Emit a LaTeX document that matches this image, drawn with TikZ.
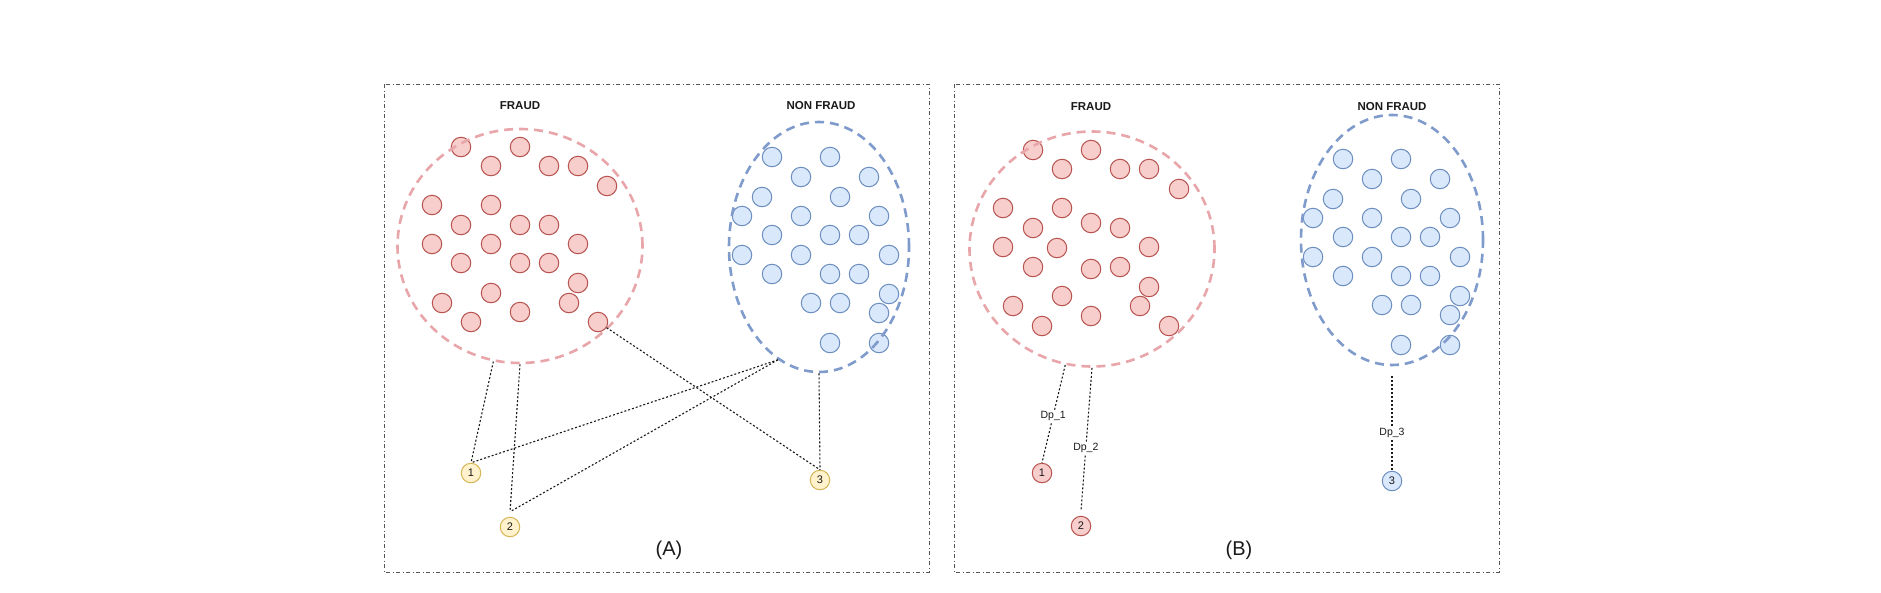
\documentclass[tikz,border=0pt]{standalone}
\usepackage{fontspec}
\setmainfont{Liberation Sans}
\usepackage{xcolor}
\usepackage{tikz}
\usetikzlibrary{shapes.geometric}
\definecolor{ink}{HTML}{1A1A1A}
\definecolor{framec}{HTML}{555555}
\definecolor{redfill}{HTML}{F8CECC}
\definecolor{redline}{HTML}{B85450}
\definecolor{redring}{HTML}{E8A6AA}
\definecolor{bluefill}{HTML}{DAE8FC}
\definecolor{blueline}{HTML}{6C8EBF}
\definecolor{bluering}{HTML}{7F9BCB}
\definecolor{yelfill}{HTML}{FFF2CC}
\definecolor{yelline}{HTML}{D6B656}
\tikzset{
  panel/.style={draw=framec, line width=1pt, dash pattern=on 4pt off 2.5pt on 1pt off 2.5pt},
  ring/.style={ellipse, draw, line width=2.6pt, dash pattern=on 9pt off 6pt, inner sep=0pt},
  fraudring/.style={ring, draw=redring},
  nonring/.style={ring, draw=bluering},
  dot/.style={circle, line width=1pt, minimum size=19.5pt, inner sep=0pt, text=ink, font=\fontsize{11}{11}\selectfont},
  fraudpt/.style={dot, draw=redline, fill=redfill},
  nonpt/.style={dot, draw=blueline, fill=bluefill},
  newpt/.style={dot, draw=yelline, fill=yelfill},
  link/.style={draw=ink, line width=1.1pt, dash pattern=on 2pt off 2pt},
  head/.style={text=ink, font=\bfseries\fontsize{11.5}{12}\selectfont},
  tag/.style={text=ink, font=\fontsize{20}{22}\selectfont},
  edgelab/.style={text=ink, fill=white, inner sep=1pt, font=\fontsize{10.5}{11}\selectfont}
}
\def\nonpts{772/157, 830/157, 801/177, 869/177, 762/197, 840/197, 742/216, 801/216,
  879/216, 772/235, 830/235, 859/235, 742/255, 801/255, 889/255, 772/274, 830/274,
  859/274, 889/294, 811/303, 840/303, 879/313, 830/343, 879/343}

\begin{document}
\begin{tikzpicture}[x=1pt,y=-1pt]
  \useasboundingbox (0,0) rectangle (1881,592);
  \fill[white] (0,0) rectangle (1881,592);

  % (A)
  \draw[panel] (384,84) rectangle (929,572);
  \node[head] (headfa) at (520,106) {FRAUD};
  \node[head] (headna) at (821,106) {NON FRAUD};
  \foreach \x/\y [count=\i] in {461/147, 520/147, 491/166, 549/166, 578/166, 607/186,
      432/205, 491/205, 461/225, 520/225, 549/225, 432/244, 491/244, 578/244, 461/263,
      520/263, 549/263, 578/283, 491/293, 442/303, 569/303, 471/322, 520/312, 598/322}
    \node[fraudpt] (fa\i) at (\x,\y) {};
  \foreach \x/\y [count=\i] in \nonpts
    \node[nonpt] (na\i) at (\x,\y) {};
  \node[fraudring, minimum width=245pt, minimum height=234pt] (fraudA) at (520,246) {};
  \node[nonring, minimum width=180pt, minimum height=250pt] (nonA) at (819,247) {};
  \node[newpt] (a1) at (471,473) {1};
  \node[newpt] (a2) at (510,527) {2};
  \node[newpt] (a3) at (820,480) {3};
  \draw[link] (fraudA.-103) -- (a1.north);
  \draw[link] (fraudA.south) -- ([yshift=5pt]a2.north);
  \draw[link] (fa24) -- (a3.north);
  \draw[link] (nonA.-110) -- (a1.north);
  \draw[link] (nonA.-110) -- ([yshift=5pt]a2.north);
  \draw[link] (nonA.south) -- (a3.north);
  \node[tag] (taga) at (669,550) {(A)};

  % (B)
  \draw[panel] (954,84) rectangle (1499,572);
  \node[head] (headfb) at (1091,107) {FRAUD};
  \node[head] (headnb) at (1392,107) {NON FRAUD};
  \foreach \x/\y [count=\i] in {1033/150, 1091/150, 1062/169, 1120/169, 1149/169, 1179/189,
      1003/208, 1062/208, 1033/228, 1091/223, 1120/228, 1003/247, 1057/248, 1149/247, 1033/267,
      1091/269, 1120/267, 1149/287, 1062/296, 1013/306, 1140/306, 1042/326, 1091/316, 1169/326}
    \node[fraudpt] (fb\i) at (\x,\y) {};
  \begin{scope}[shift={(571,2)}]
    \foreach \x/\y [count=\i] in \nonpts
      \node[nonpt] (nb\i) at (\x,\y) {};
  \end{scope}
  \node[fraudring, minimum width=245pt, minimum height=235pt] (fraudB) at (1092,249) {};
  \node[nonring, minimum width=182pt, minimum height=250pt] (nonB) at (1392,240) {};
  \node[fraudpt] (b1) at (1042,473) {1};
  \node[fraudpt] (b2) at (1081,526) {2};
  \node[nonpt] (b3) at (1392,481) {3};
  \draw[link] (fraudB.-103) -- node[edgelab, pos=0.52] (dp1) {Dp\_1} (b1.north);
  \draw[link] (fraudB.south) -- node[edgelab, pos=0.56] (dp2) {Dp\_2} ([yshift=5pt]b2.north);
  \draw[link] ([yshift=-10pt]nonB.south) -- node[edgelab, pos=0.6] (dp3) {Dp\_3} (b3.north);
  \node[tag] (tagb) at (1239,550) {(B)};
\end{tikzpicture}
\end{document}
